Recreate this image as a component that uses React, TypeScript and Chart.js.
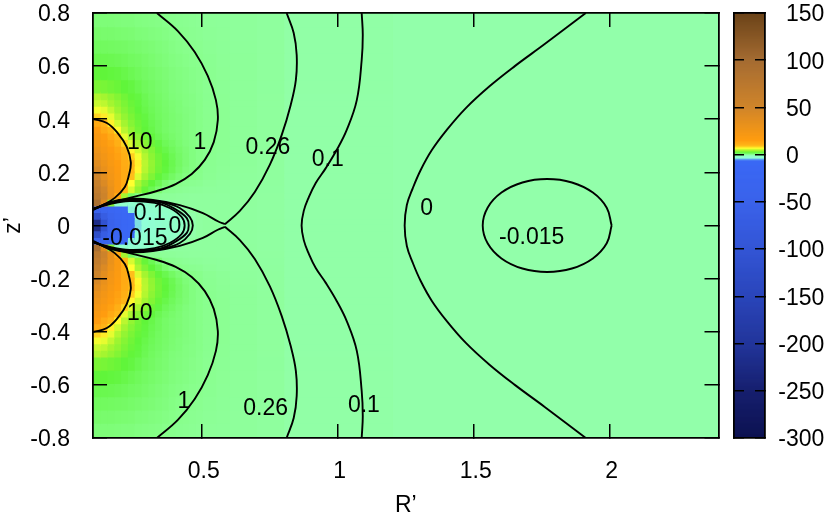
import React, { useEffect, useRef } from "react";
import { Chart, registerables } from "chart.js";

Chart.register(...registerables);

const FONT = "Liberation Sans, Arial, sans-serif";
const FONT_SIZE = 23;

const xTickValues = [0.5, 1, 1.5, 2];
const zTickValues = [-0.8, -0.6, -0.4, -0.2, 0, 0.2, 0.4, 0.6, 0.8];
const cbTickValues = [-300, -250, -200, -150, -100, -50, 0, 50, 100, 150];

// colour map
const cmapValues = [-300, -250, -200, -150, -100, -50, -6, -4.5, -3, -0.2, -0.03, 0.05, 0.26, 1, 3, 5, 7.5, 10, 16, 50, 100, 150];
const cmapColors = [
  "#0c1150", "#161f6e", "#22359a", "#2a45ba", "#3355d5", "#3a62ea", "#3a68f5", "#5a9cf0", "#90ffd8", "#90ffc4",
  "#92ffaa", "#92ffaa", "#8fff9e", "#88ff8c", "#60f53a", "#a4f530", "#ffff30", "#ffb818", "#ff9c0f", "#d0852a", "#a56c32", "#6b4318",
];

// heat map grid (upper half, mirrored below z = 0)
const xEdges = [0.1, 0.125, 0.15, 0.175, 0.2, 0.225, 0.25, 0.275, 0.3, 0.325, 0.35, 0.375, 0.4, 0.425, 0.45, 0.475, 0.5, 0.55, 0.6, 0.7, 0.8, 1.2, 2.4];
const zEdges = [0, 0.025, 0.05, 0.075, 0.1, 0.125, 0.15, 0.175, 0.2, 0.225, 0.25, 0.275, 0.3, 0.325, 0.35, 0.375, 0.4, 0.425, 0.45, 0.475, 0.5, 0.55, 0.6, 0.65, 0.7, 0.75, 0.8];
const heatValues = [
  [-220, -110, -50, -25, -12, -6.5, -3.5, -2.8, -2.2, -1.6, -1.1, -0.7, -0.45, -0.25, -0.05, 0.2, 0.28, 0.26, 0.24, 0.2, 0.1, 0.02],
  [-120, -70, -35, -18, -10, -6, -3, -2.5, -2, -1.5, -1, -0.6, -0.4, -0.2, 0.05, 0.2, 0.26, 0.26, 0.24, 0.2, 0.1, 0.02],
  [-40, -30, -20, -12, -7, -3.2, -2.5, -2, -1.5, -1, -0.6, -0.3, -0.1, 0.1, 0.2, 0.25, 0.26, 0.26, 0.24, 0.2, 0.1, 0.02],
  [95, 40, 4, -0.2, -1.5, -2, -2, -1.5, -1, -0.5, 0.1, 0.2, 0.25, 0.27, 0.27, 0.27, 0.26, 0.27, 0.26, 0.21, 0.1, 0.02],
  [75, 55, 32, 13, 5, 2, 1.2, 0.9, 0.7, 0.6, 0.5, 0.45, 0.4, 0.35, 0.3, 0.3, 0.3, 0.28, 0.26, 0.22, 0.1, 0.02],
  [68, 50, 31, 19, 10.5, 6.4, 4.5, 3.2, 2.4, 1.7, 1, 0.85, 0.7, 0.6, 0.5, 0.45, 0.38, 0.33, 0.28, 0.23, 0.1, 0.02],
  [60, 42, 28, 19, 12.5, 7.5, 5.2, 3.9, 3, 2.4, 1.7, 1.3, 1.05, 0.9, 0.8, 0.7, 0.5, 0.4, 0.3, 0.24, 0.1, 0.02],
  [52, 36, 25, 18, 13, 9.8, 6.6, 5, 3.9, 3.1, 2.5, 2, 1.6, 1.3, 1.1, 1, 0.7, 0.55, 0.36, 0.26, 0.1, 0.02],
  [45, 32, 23, 17, 13, 10.2, 7.8, 5.5, 4.4, 3.5, 2.9, 2.4, 1.9, 1.5, 1.25, 1.05, 0.75, 0.6, 0.4, 0.27, 0.1, 0.02],
  [38, 28, 21, 16, 12.5, 10.4, 8, 5.6, 4.5, 3.6, 3, 2.5, 2, 1.6, 1.3, 1.1, 0.8, 0.65, 0.42, 0.28, 0.1, 0.02],
  [32, 25, 19, 15, 12, 9.2, 7.2, 5.4, 4.3, 3.5, 2.9, 2.4, 1.95, 1.6, 1.3, 1.1, 0.85, 0.68, 0.45, 0.29, 0.1, 0.02],
  [28, 22, 17, 14, 11, 7.8, 6.2, 4.9, 4, 3.2, 2.6, 2.2, 1.85, 1.55, 1.3, 1.1, 0.88, 0.7, 0.47, 0.3, 0.1, 0.02],
  [24, 19, 15, 12, 9, 6.5, 5.2, 4.2, 3.4, 2.8, 2.3, 2, 1.7, 1.45, 1.25, 1.1, 0.9, 0.72, 0.48, 0.31, 0.1, 0.02],
  [20, 16, 13, 10.3, 6.8, 5.2, 4.3, 3.5, 2.9, 2.4, 2.05, 1.8, 1.6, 1.4, 1.25, 1.1, 0.9, 0.72, 0.48, 0.31, 0.1, 0.02],
  [17, 13, 10.5, 7.6, 5.6, 4.5, 3.6, 3, 2.6, 2.2, 1.9, 1.7, 1.55, 1.4, 1.25, 1.1, 0.9, 0.72, 0.48, 0.31, 0.1, 0.02],
  [13, 11, 8, 6.2, 5, 4.1, 3.4, 2.9, 2.5, 2.2, 1.9, 1.7, 1.55, 1.4, 1.25, 1.1, 0.9, 0.72, 0.48, 0.31, 0.1, 0.02],
  [9, 8.2, 6.8, 5.4, 4.5, 3.8, 3.2, 2.8, 2.4, 2.1, 1.9, 1.7, 1.55, 1.4, 1.25, 1.1, 0.9, 0.72, 0.48, 0.31, 0.1, 0.02],
  [7.2, 6.8, 5.8, 4.8, 4.1, 3.5, 3, 2.6, 2.3, 2.05, 1.85, 1.65, 1.5, 1.35, 1.25, 1.1, 0.88, 0.7, 0.48, 0.31, 0.1, 0.02],
  [6, 5.7, 5, 4.4, 3.8, 3.3, 2.9, 2.5, 2.2, 2, 1.8, 1.6, 1.5, 1.3, 1.2, 1.1, 0.86, 0.69, 0.47, 0.31, 0.1, 0.02],
  [5.3, 5, 4.5, 4, 3.5, 3.1, 2.8, 2.4, 2.1, 1.9, 1.7, 1.5, 1.4, 1.3, 1.2, 1.05, 0.85, 0.68, 0.47, 0.31, 0.1, 0.02],
  [3.8, 3.7, 3.5, 3.3, 3, 2.8, 2.5, 2.2, 2, 1.8, 1.65, 1.45, 1.35, 1.25, 1.12, 1.02, 0.8, 0.65, 0.48, 0.32, 0.12, 0.02],
  [3, 3, 2.9, 2.8, 2.6, 2.4, 2.2, 2, 1.85, 1.7, 1.55, 1.4, 1.3, 1.2, 1.08, 0.98, 0.78, 0.62, 0.46, 0.31, 0.12, 0.02],
  [2.5, 2.5, 2.45, 2.35, 2.25, 2.1, 2, 1.85, 1.7, 1.55, 1.45, 1.3, 1.2, 1.1, 1, 0.9, 0.74, 0.6, 0.45, 0.3, 0.12, 0.02],
  [2.1, 2.1, 2.05, 2, 1.95, 1.85, 1.75, 1.65, 1.55, 1.45, 1.35, 1.2, 1.1, 1, 0.9, 0.82, 0.68, 0.56, 0.43, 0.29, 0.12, 0.02],
  [1.8, 1.75, 1.75, 1.7, 1.65, 1.6, 1.5, 1.45, 1.35, 1.3, 1.2, 1.1, 1, 0.9, 0.8, 0.72, 0.6, 0.5, 0.4, 0.28, 0.12, 0.02],
  [1.5, 1.5, 1.5, 1.45, 1.4, 1.4, 1.3, 1.25, 1.2, 1.15, 1.05, 0.95, 0.85, 0.78, 0.7, 0.62, 0.52, 0.45, 0.37, 0.27, 0.12, 0.02],
];

// contour lines
const c10UpperX = [0.1, 0.151, 0.191, 0.224, 0.239, 0.232, 0.217, 0.18, 0.136, 0.103];
const c10UpperZ = [0.401, 0.386, 0.348, 0.296, 0.239, 0.19, 0.145, 0.104, 0.077, 0.062];
const c10LowerX = [0.103, 0.136, 0.18, 0.217, 0.232, 0.239, 0.224, 0.191, 0.151, 0.1];
const c10LowerZ = [-0.062, -0.077, -0.104, -0.145, -0.19, -0.239, -0.296, -0.348, -0.386, -0.401];
const c1UpperX = [0.335, 0.412, 0.474, 0.522, 0.552, 0.559, 0.544, 0.511, 0.463, 0.404, 0.335, 0.246, 0.173, 0.1];
const c1UpperZ = [0.8, 0.732, 0.653, 0.563, 0.472, 0.397, 0.314, 0.247, 0.194, 0.156, 0.13, 0.107, 0.088, 0.062];
const c1LowerX = [0.1, 0.173, 0.246, 0.335, 0.404, 0.463, 0.511, 0.544, 0.559, 0.552, 0.522, 0.474, 0.412, 0.335];
const c1LowerZ = [-0.062, -0.088, -0.107, -0.13, -0.156, -0.194, -0.247, -0.314, -0.397, -0.472, -0.563, -0.653, -0.732, -0.8];
const c026UpperLeftX = [0.1, 0.162, 0.235, 0.32, 0.419, 0.504, 0.559, 0.585];
const c026UpperLeftZ = [0.058, 0.088, 0.1, 0.096, 0.077, 0.047, 0.016, 0.005];
const c026UpperRightX = [0.585, 0.64, 0.695, 0.75, 0.794, 0.827, 0.846, 0.849, 0.838, 0.812];
const c026UpperRightZ = [0.005, 0.055, 0.126, 0.228, 0.341, 0.454, 0.548, 0.642, 0.725, 0.8];
const c026LowerLeftX = [0.1, 0.162, 0.235, 0.32, 0.419, 0.504, 0.559, 0.585];
const c026LowerLeftZ = [-0.058, -0.088, -0.1, -0.096, -0.077, -0.047, -0.016, -0.005];
const c026LowerRightX = [0.585, 0.64, 0.695, 0.75, 0.794, 0.827, 0.846, 0.849, 0.838, 0.812];
const c026LowerRightZ = [-0.005, -0.055, -0.126, -0.228, -0.341, -0.454, -0.548, -0.642, -0.725, -0.8];
const c01OuterX = [1.088, 1.092, 1.088, 1.07, 1.033, 0.996, 0.956, 0.919, 0.893, 0.875, 0.867, 0.875, 0.893, 0.919, 0.956, 0.996, 1.033, 1.07, 1.088, 1.092, 1.088];
const c01OuterZ = [0.8, 0.717, 0.623, 0.472, 0.36, 0.284, 0.216, 0.16, 0.105, 0.055, 0, -0.055, -0.105, -0.16, -0.216, -0.284, -0.36, -0.472, -0.623, -0.717, -0.8];
const c0OuterX = [1.912, 1.761, 1.651, 1.559, 1.471, 1.401, 1.346, 1.305, 1.276, 1.254, 1.246, 1.254, 1.276, 1.305, 1.346, 1.401, 1.471, 1.559, 1.651, 1.761, 1.912];
const c0OuterZ = [0.8, 0.683, 0.6, 0.525, 0.442, 0.36, 0.284, 0.209, 0.141, 0.077, 0, -0.077, -0.141, -0.209, -0.284, -0.36, -0.442, -0.525, -0.6, -0.683, -0.8];
const cm015EllipseX = [2.007, 1.989, 1.938, 1.861, 1.77, 1.679, 1.602, 1.551, 1.533, 1.551, 1.602, 1.679, 1.77, 1.861, 1.938, 1.989, 2.007];
const cm015EllipseZ = [0, 0.067, 0.124, 0.162, 0.175, 0.162, 0.124, 0.067, 0, -0.067, -0.124, -0.162, -0.175, -0.162, -0.124, -0.067, 0];
const c01InnerX = [0.1, 0.162, 0.235, 0.309, 0.357, 0.419, 0.456, 0.467, 0.456, 0.419, 0.357, 0.309, 0.235, 0.162, 0.1];
const c01InnerZ = [0.062, 0.085, 0.096, 0.094, 0.088, 0.066, 0.032, 0, -0.032, -0.066, -0.088, -0.094, -0.096, -0.085, -0.062];
const c0InnerX = [0.1, 0.162, 0.235, 0.346, 0.408, 0.445, 0.452, 0.445, 0.408, 0.346, 0.235, 0.162, 0.1];
const c0InnerZ = [0.062, 0.083, 0.094, 0.087, 0.058, 0.028, 0, -0.028, -0.058, -0.087, -0.094, -0.083, -0.062];
const cm015InnerX = [0.1, 0.162, 0.235, 0.327, 0.382, 0.426, 0.437, 0.426, 0.382, 0.327, 0.235, 0.162, 0.1];
const cm015InnerZ = [0.062, 0.081, 0.092, 0.085, 0.066, 0.032, 0, -0.032, -0.066, -0.085, -0.092, -0.081, -0.062];

const contours = [
  [c10UpperX, c10UpperZ], [c10LowerX, c10LowerZ], [c1UpperX, c1UpperZ], [c1LowerX, c1LowerZ],
  [c026UpperLeftX, c026UpperLeftZ], [c026UpperRightX, c026UpperRightZ], [c026LowerLeftX, c026LowerLeftZ], [c026LowerRightX, c026LowerRightZ],
  [c01OuterX, c01OuterZ], [c0OuterX, c0OuterZ],
  [cm015EllipseX, cm015EllipseZ], [c01InnerX, c01InnerZ], [c0InnerX, c0InnerZ], [cm015InnerX, cm015InnerZ],
];

// contour labels
const labelTexts = ["10", "1", "0.26", "0.1", "0", "-0.015", "0.1", "0", "-0.015", "10", "1", "0.26", "0.1"];
const labelXs = [0.272, 0.493, 0.743, 0.963, 1.327, 1.713, 0.309, 0.401, 0.254, 0.272, 0.434, 0.735, 1.096];
const labelZs = [0.318, 0.318, 0.299, 0.254, 0.07, -0.04, 0.051, 0.002, -0.043, -0.326, -0.657, -0.683, -0.672];

function hexToRgb(h: string) {
  return [parseInt(h.slice(1, 3), 16), parseInt(h.slice(3, 5), 16), parseInt(h.slice(5, 7), 16)];
}

function colorOf(v: number) {
  if (v <= cmapValues[0]) return cmapColors[0];
  for (let i = 1; i < cmapValues.length; i++) {
    if (v <= cmapValues[i]) {
      const t = (v - cmapValues[i - 1]) / (cmapValues[i] - cmapValues[i - 1]);
      const a = hexToRgb(cmapColors[i - 1]);
      const b = hexToRgb(cmapColors[i]);
      return `rgb(${a.map((c, k) => Math.round(c + (b[k] - c) * t)).join(",")})`;
    }
  }
  return cmapColors[cmapColors.length - 1];
}

const PLOT_LEFT = 93;
const PLOT_RIGHT = 718.5;
const PLOT_TOP = 13;
const PLOT_BOTTOM = 438;

function clearPadding(s: any) {
  s.paddingTop = 0;
  s.paddingBottom = 0;
  s.paddingLeft = 0;
  s.paddingRight = 0;
}

function boxAxis(position: string, min: number, max: number, tickVals: number[] | null, tickLen: number, extra: any = {}) {
  return {
    type: "linear",
    position,
    min,
    max,
    offset: false,
    afterBuildTicks: (s: any) => {
      if (tickVals) s.ticks = tickVals.map((value) => ({ value }));
    },
    grid: { display: !!tickVals, offset: false, drawOnChartArea: false, drawTicks: true, tickLength: -tickLen, color: "#000", lineWidth: 1.5, z: 2 },
    border: { display: true, color: "#000", width: 1.8, z: 2 },
    ticks: { display: false },
    afterFit: (s: any) => {
      clearPadding(s);
      if (position === "left" || position === "right") s.width = 0;
      else s.height = 0;
    },
    ...extra,
  };
}

export default function App() {
  const mainRef = useRef<HTMLCanvasElement>(null);
  const barRef = useRef<HTMLCanvasElement>(null);

  useEffect(() => {
    const pxPerX = (PLOT_RIGHT - PLOT_LEFT) / (2.4 - 0.1);
    const heatSets: any[] = [];
    for (let c = 0; c < xEdges.length - 1; c++) {
      const xc = (xEdges[c] + xEdges[c + 1]) / 2;
      const data: any[] = [];
      const colors: string[] = [];
      heatValues.forEach((row, r) => {
        const lo = zEdges[r];
        const hi = zEdges[r + 1];
        data.push({ x: xc, y: [lo - 0.002, hi + 0.002] });
        colors.push(colorOf(row[c]));
        data.push({ x: xc, y: [-hi - 0.002, -lo + 0.002] });
        colors.push(colorOf(row[c]));
      });
      heatSets.push({
        type: "bar",
        data,
        backgroundColor: colors,
        borderWidth: 0,
        grouped: false,
        barThickness: (xEdges[c + 1] - xEdges[c]) * pxPerX + 1,
        order: 5,
      });
    }
    const lineSets = contours.map(([xs, zs]) => ({
      type: "scatter",
      data: xs.map((x: number, i: number) => ({ x, y: zs[i] })),
      showLine: true,
      borderColor: "#000",
      borderWidth: 1.9,
      pointRadius: 0,
      tension: 0.4,
      order: 1,
    }));

    const labelPlugin = {
      id: "contourLabels",
      afterDatasetsDraw(chart: any) {
        const { ctx, scales } = chart;
        ctx.save();
        ctx.fillStyle = "#000";
        ctx.font = `${FONT_SIZE}px ${FONT}`;
        ctx.textAlign = "center";
        ctx.textBaseline = "middle";
        labelTexts.forEach((t, i) => {
          ctx.fillText(t, scales.x.getPixelForValue(labelXs[i]), scales.y.getPixelForValue(labelZs[i]) + 1.5);
        });
        ctx.restore();
      },
    };

    const main = new Chart(mainRef.current as any, {
      type: "bar",
      data: { datasets: [...lineSets, ...heatSets] as any },
      plugins: [labelPlugin],
      options: {
        responsive: false,
        animation: false,
        layout: { autoPadding: false, padding: { top: PLOT_TOP, right: 830 - PLOT_RIGHT, bottom: 0, left: 0 } },
        plugins: { legend: { display: false }, tooltip: { enabled: false } },
        scales: {
          x: {
            ...boxAxis("bottom", 0.1, 2.4, xTickValues, 14),
            ticks: {
              display: true,
              color: "#000",
              font: { family: FONT, size: FONT_SIZE },
              padding: 34,
              labelOffset: 2,
              maxRotation: 0,
              autoSkip: false,
              callback: (v: any) => String(v),
            },
            title: { display: true, text: "R’", color: "#000", font: { family: FONT, size: FONT_SIZE }, padding: { top: 0, bottom: 2 } },
            afterFit: (s: any) => {
              clearPadding(s);
              s.height = 521 - PLOT_BOTTOM;
            },
          },
          y: {
            ...boxAxis("left", -0.8, 0.8, zTickValues, 14),
            ticks: {
              display: true,
              color: "#000",
              font: { family: FONT, size: FONT_SIZE },
              padding: 37,
              labelOffset: 2,
              autoSkip: false,
              callback: (v: any) => String(v),
            },
            title: { display: true, text: "z’", color: "#000", font: { family: FONT, size: FONT_SIZE }, padding: { top: 0, bottom: 0 } },
            afterFit: (s: any) => {
              clearPadding(s);
              s.width = PLOT_LEFT;
            },
          },
          x2: boxAxis("top", 0.1, 2.4, xTickValues, 14),
          y2: boxAxis("right", -0.8, 0.8, zTickValues, 14),
        } as any,
      } as any,
    });

    // colour bar
    const levels: number[] = [];
    for (let v = -300; v < 150; v += 1) levels.push(v);
    const cbLabelPlugin = {
      id: "cbLabels",
      afterDraw(chart: any) {
        const { ctx, scales, chartArea } = chart;
        ctx.save();
        ctx.fillStyle = "#000";
        ctx.font = `${FONT_SIZE}px ${FONT}`;
        ctx.textAlign = "left";
        ctx.textBaseline = "middle";
        const x0 = chartArea.right + 21;
        const minus = ctx.measureText("-").width;
        cbTickValues.forEach((v) => {
          ctx.fillText(String(v), v < 0 ? x0 - minus : x0, scales.y.getPixelForValue(v) + 2);
        });
        ctx.restore();
      },
    };
    const bar = new Chart(barRef.current as any, {
      type: "bar",
      data: {
        datasets: [
          {
            data: levels.map((v) => ({ x: 0.5, y: [v - 0.3, v + 1.3] })),
            backgroundColor: levels.map((v) => colorOf(v + 0.5)),
            borderWidth: 0,
            barThickness: 34,
          },
        ] as any,
      },
      plugins: [cbLabelPlugin],
      options: {
        responsive: false,
        animation: false,
        layout: { autoPadding: false, padding: { top: PLOT_TOP, right: 65, bottom: 521 - PLOT_BOTTOM, left: 14 } },
        plugins: { legend: { display: false }, tooltip: { enabled: false } },
        scales: {
          x: boxAxis("bottom", 0, 1, null, 0),
          x2: boxAxis("top", 0, 1, null, 0),
          y: boxAxis("left", -300, 150, cbTickValues, 10),
          y2: boxAxis("right", -300, 150, cbTickValues, 10),
        } as any,
      } as any,
    });

    return () => {
      main.destroy();
      bar.destroy();
    };
  }, []);

  return (
    <div style={{ position: "fixed", left: 0, top: 0, width: 830, height: 521, background: "#fff" }}>
      <canvas ref={mainRef} width={830} height={521} style={{ position: "absolute", left: 0, top: 0 }} />
      <canvas ref={barRef} width={110} height={521} style={{ position: "absolute", left: 720, top: 0 }} />
    </div>
  );
}
